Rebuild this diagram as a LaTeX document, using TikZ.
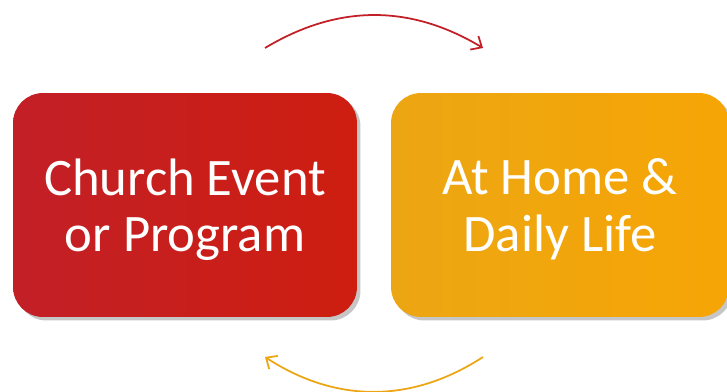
\documentclass[tikz,border=0pt]{standalone}
\usepackage{fontspec}
\setmainfont{Carlito}
\usetikzlibrary{arrows.meta,shadows}

\definecolor{eventoA}{HTML}{C21F27}
\definecolor{eventoB}{HTML}{CE1E10}
\definecolor{casaA}{HTML}{ECA613}
\definecolor{casaB}{HTML}{F6A505}

\begin{document}
\begin{tikzpicture}[x=0.02cm,y=-0.02cm]
        %======definicao dos blocos==========%

            \tikzstyle{bloco}=[rectangle,rounded corners=0.6cm,minimum height=4.48cm,
                text=white,align=center,font=\fontsize{30}{32}\selectfont,text depth=0pt,
                drop shadow={shadow xshift=2pt,shadow yshift=-2pt,opacity=0.45}]
            \tikzstyle{seta}=[-{Straight Barb[length=5pt,width=9pt]},line width=1pt]

        %====================%%=============%

            \useasboundingbox (0,0) rectangle (727,392);

            \node[bloco,minimum width=6.88cm,left color=eventoA,right color=eventoB](A) at (185,205) {Church Event\\or Program};
            \node[bloco,minimum width=6.76cm,left color=casaA,right color=casaB](B) at (560,205) {At Home \&\\Daily Life};

            \coordinate (C1) at (265,48);
            \coordinate (C2) at (483,48);
            \coordinate (C3) at (483,357);
            \coordinate (C4) at (265,357);

            \draw[seta,eventoA](C1) to[bend left=31] (C2);
            \draw[seta,casaA](C3) to[bend left=33] (C4);
        \end{tikzpicture}
\end{document}
